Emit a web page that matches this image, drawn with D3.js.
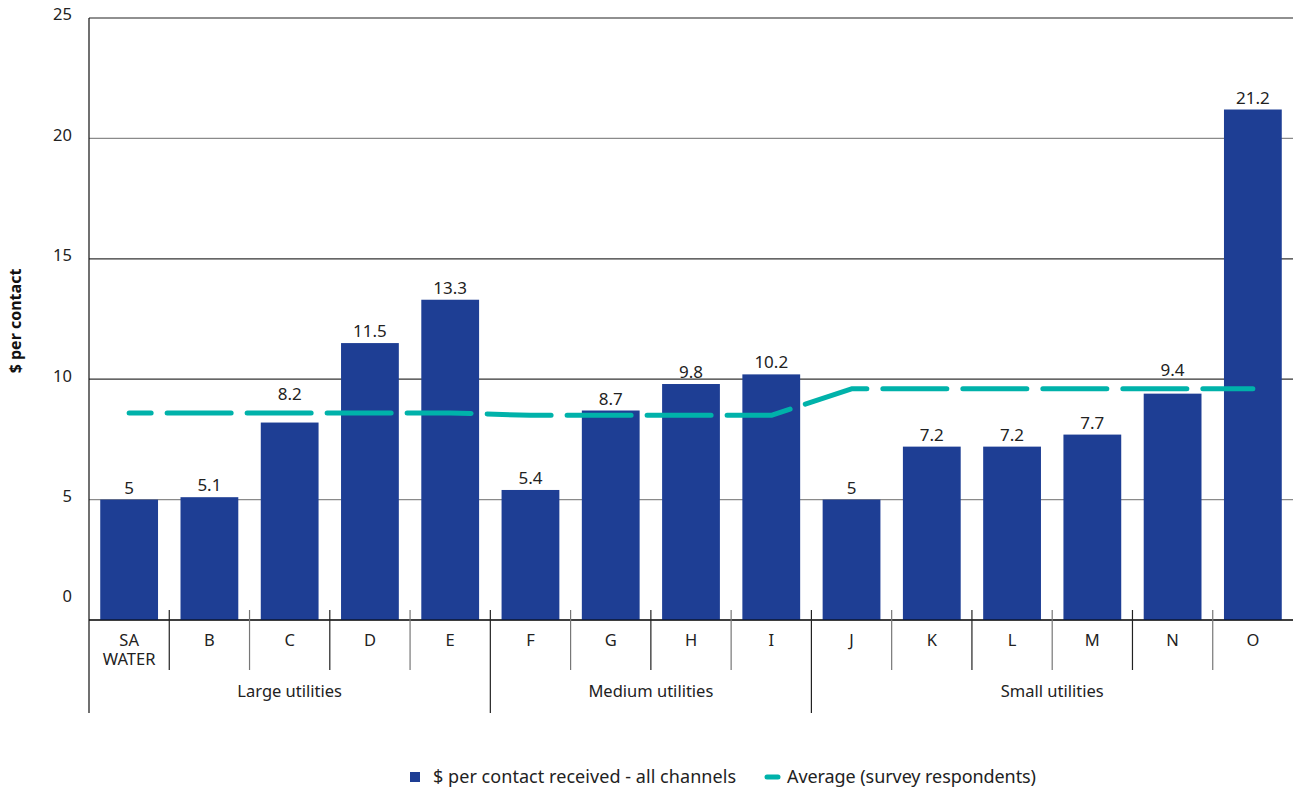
<!DOCTYPE html>
<html>
<head>
<meta charset="utf-8">
<script src="https://cdn.jsdelivr.net/npm/d3@7"></script>
<style>
  body { margin: 0; background: #fff; }
  svg { display: block; font-family: "Noto Sans", "Open Sans", sans-serif; }
</style>
</head>
<body>
<svg id="chart" width="1293" height="789"></svg>
<script>
// Cost per contact by utility
const categories = ["SA WATER", "B", "C", "D", "E", "F", "G", "H", "I", "J", "K", "L", "M", "N", "O"];
const groups = ["Large utilities", "Large utilities", "Large utilities", "Large utilities", "Large utilities",
  "Medium utilities", "Medium utilities", "Medium utilities", "Medium utilities",
  "Small utilities", "Small utilities", "Small utilities", "Small utilities", "Small utilities", "Small utilities"];
const costPerContact = [5, 5.1, 8.2, 11.5, 13.3, 5.4, 8.7, 9.8, 10.2, 5, 7.2, 7.2, 7.7, 9.4, 21.2];
const groupAverage = [8.6, 8.6, 8.6, 8.6, 8.6, 8.5, 8.5, 8.5, 8.5, 9.6, 9.6, 9.6, 9.6, 9.6, 9.6];
const yTicks = [0, 5, 10, 15, 20, 25];
const seriesNames = ["$ per contact received - all channels", "Average (survey respondents)"];

const barColor = "#1e3e94";
const lineColor = "#00b2aa";
const textColor = "#222";

const svg = d3.select("#chart");
const plotLeft = 89, plotRight = 1293, plotTop = 18, plotBottom = 620;

const x = d3.scaleBand().domain(d3.range(categories.length)).range([plotLeft, plotRight])
  .paddingInner(0.28).paddingOuter(0.14);
const y = d3.scaleLinear().domain([0, 25]).range([plotBottom, plotTop]);
const step = x.step();
const bandStart = i => x(i) - step * 0.14;
const cx = i => x(i) + x.bandwidth() / 2;

// horizontal gridlines
const gridColors = { 0: "#000", 5: "#8a8a8a", 10: "#333", 15: "#333", 20: "#8a8a8a", 25: "#222" };
svg.append("g").selectAll("line").data(yTicks).join("line")
  .attr("x1", plotLeft).attr("x2", plotRight)
  .attr("y1", d => y(d)).attr("y2", d => y(d))
  .attr("stroke", d => gridColors[d]).attr("stroke-width", 1.2);

// y tick labels
svg.append("g").selectAll("text").data(yTicks).join("text")
  .attr("x", 72).attr("y", d => y(d) - (d === 0 ? 22 : 2))
  .attr("text-anchor", "end").attr("dominant-baseline", "middle")
  .attr("font-size", 16.5).attr("fill", textColor)
  .text(d => d);

// y axis title
svg.append("text")
  .attr("transform", `translate(17,${(plotTop + plotBottom) / 2 + 2}) rotate(-90)`)
  .attr("text-anchor", "middle").attr("dominant-baseline", "middle")
  .attr("font-size", 16).attr("font-weight", "bold").attr("fill", "#111")
  .text("$ per contact");

// bars
svg.append("g").selectAll("rect").data(costPerContact).join("rect")
  .attr("x", (d, i) => x(i)).attr("width", x.bandwidth())
  .attr("y", d => y(d)).attr("height", d => y(0) - y(d))
  .attr("fill", barColor);

// value labels, lifted above the average line when it runs just over a bar
const labelBaseline = (d, i) => {
  const top = y(d), avg = y(groupAverage[i]);
  const base = top - 6;
  if (avg < top && top - avg < 22) return avg - 13;
  return base;
};
svg.append("g").selectAll("text").data(costPerContact).join("text")
  .attr("x", (d, i) => cx(i)).attr("y", labelBaseline)
  .attr("text-anchor", "middle").attr("font-size", 17).attr("fill", textColor)
  .text(d => d);

// average line
const line = d3.line().x((d, i) => cx(i)).y(d => y(d));
svg.append("path").datum(groupAverage)
  .attr("d", line).attr("fill", "none")
  .attr("stroke", lineColor).attr("stroke-width", 5)
  .attr("stroke-linecap", "round").attr("stroke-linejoin", "round")
  .attr("stroke-dasharray", "64,16").attr("stroke-dashoffset", 42);

// x axis line
svg.append("line").attr("x1", plotLeft).attr("x2", plotRight).attr("y1", y(0)).attr("y2", y(0))
  .attr("stroke", "#000").attr("stroke-width", 1.2);

// left border
svg.append("line").attr("x1", plotLeft).attr("x2", plotLeft).attr("y1", plotTop).attr("y2", 713)
  .attr("stroke", "#111").attr("stroke-width", 1.2);

// category separators (taller at group boundaries)
const seps = d3.range(1, categories.length);
svg.append("g").selectAll("line").data(seps).join("line")
  .attr("x1", i => bandStart(i)).attr("x2", i => bandStart(i))
  .attr("y1", 610).attr("y2", i => groups[i] !== groups[i - 1] ? 713 : 670)
  .attr("stroke", (i) => i % 2 ? "#222" : "#777").attr("stroke-width", 1.2);

// category labels
const catG = svg.append("g");
categories.forEach((c, i) => {
  const t = catG.append("text")
    .attr("x", cx(i)).attr("y", 646)
    .attr("text-anchor", "middle").attr("font-size", 16.5).attr("fill", textColor);
  c.split(" ").forEach((w, k) => {
    t.append("tspan").attr("x", cx(i)).attr("dy", k === 0 ? 0 : 19).text(w);
  });
});

// group labels
const groupNames = Array.from(new Set(groups));
groupNames.forEach(g => {
  const idx = groups.map((v, i) => v === g ? i : -1).filter(i => i >= 0);
  const x0 = bandStart(idx[0]);
  const x1 = bandStart(idx[idx.length - 1]) + step;
  svg.append("text").attr("x", (x0 + x1) / 2).attr("y", 697)
    .attr("text-anchor", "middle").attr("font-size", 16.5).attr("fill", textColor)
    .text(g);
});

// legend
const lg = svg.append("g");
lg.append("rect").attr("x", 410).attr("y", 772).attr("width", 10).attr("height", 10).attr("fill", barColor);
lg.append("text").attr("x", 433).attr("y", 783).attr("font-size", 18).attr("fill", textColor)
  .attr("textLength", 303).text(seriesNames[0]);
lg.append("line").attr("x1", 767).attr("x2", 778).attr("y1", 777).attr("y2", 777)
  .attr("stroke", lineColor).attr("stroke-width", 5).attr("stroke-linecap", "round");
lg.append("text").attr("x", 787).attr("y", 783).attr("font-size", 18).attr("fill", textColor)
  .attr("textLength", 249).text(seriesNames[1]);
</script>
</body>
</html>
